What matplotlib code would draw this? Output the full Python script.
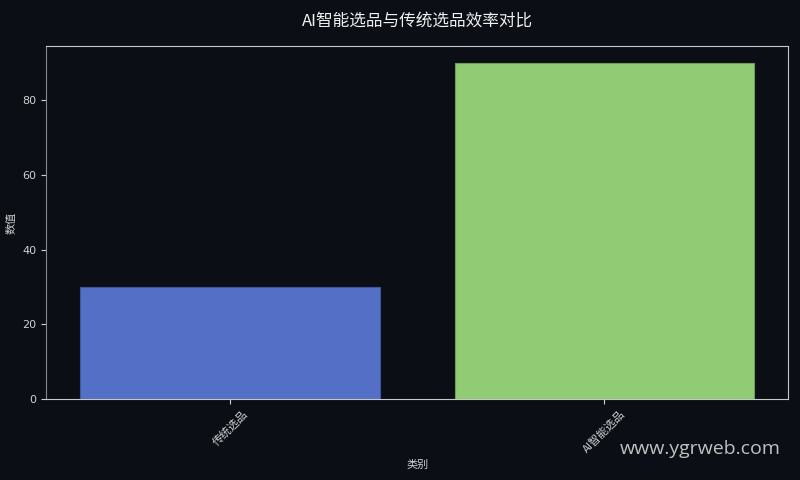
import matplotlib
matplotlib.use("Agg")
import matplotlib.pyplot as plt

plt.rcParams['font.family'] = ['Noto Sans CJK SC', 'DejaVu Sans']

categories = ['传统选品', 'AI智能选品']
values = [30, 90]
colors = ['#5470c6', '#91cc75']
title = 'AI智能选品与传统选品效率对比'
xlabel = '类别'
ylabel = '数值'
watermark = 'www.ygrweb.com'

bg = '#0b0e14'
fg = '#d0d0d0'

fig, ax = plt.subplots(figsize=(8, 4.8), dpi=100)
fig.patch.set_facecolor(bg)
ax.set_facecolor(bg)

x = list(range(len(categories)))
ax.bar(x, values, width=0.8, color=colors, edgecolor=['#3f57a0', '#6f9e58'], linewidth=0.8)
ax.set_xticks(x)
ax.set_xticklabels(categories, rotation=45, ha='center', fontsize=8, color=fg)
ax.set_yticks([0, 20, 40, 60, 80])
for lab in ax.get_yticklabels():
    lab.set_family(['DejaVu Sans'])
ax.tick_params(axis='y', labelsize=8, colors=fg)
ax.tick_params(axis='x', colors=fg)
ax.set_xlabel(xlabel, fontsize=8, color=fg)
ax.set_ylabel(ylabel, fontsize=8, color=fg)
ax.set_title(title, fontsize=12, color='#f0f0f0', pad=15)
ax.set_ylim(0, max(values) * 1.05)

for side in ['top', 'right', 'bottom']:
    ax.spines[side].set_color('#c8c8c8')
ax.spines['left'].set_color('#8a8a8a')

fig.subplots_adjust(left=0.058, right=0.985, top=0.904, bottom=0.169)

fig.text(0.976, 0.065, watermark, fontsize=14, color='#e0e0e0', alpha=0.85,
         ha='right', va='center', family=['Open Sans', 'DejaVu Sans'])

fig.savefig('out.png', dpi=100, facecolor=bg)
